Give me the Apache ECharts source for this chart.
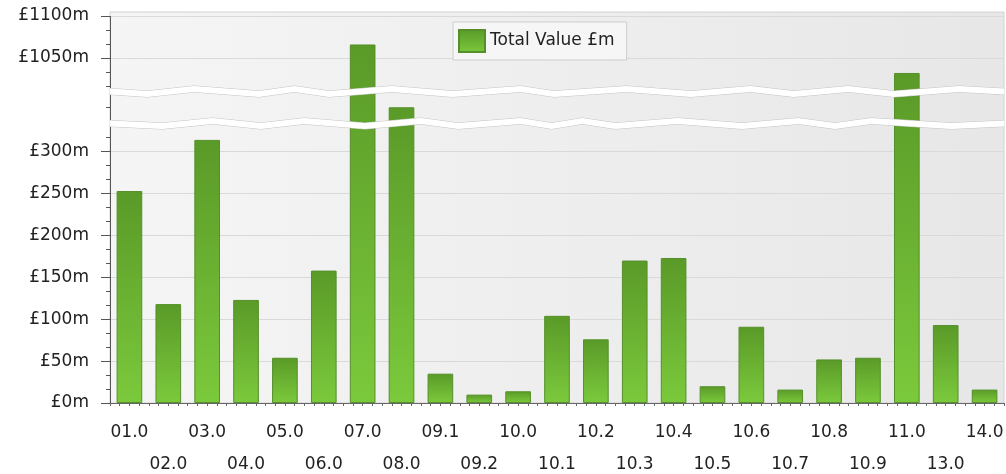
<!DOCTYPE html>
<html>
<head>
<meta charset="utf-8">
<script src="https://cdn.jsdelivr.net/npm/echarts@6.0.0/dist/echarts.min.js"></script>
<style>
html, body { margin: 0; padding: 0; background: #fff; }
#main { width: 1006px; height: 474px; }
</style>
</head>
<body>
<div id="main"></div>
<script>
// years / periods on the x axis
var categories = ['01.0', '02.0', '03.0', '04.0', '05.0', '06.0', '07.0', '08.0', '09.1', '09.2',
  '10.0', '10.1', '10.2', '10.3', '10.4', '10.5', '10.6', '10.7', '10.8', '10.9', '11.0', '13.0', '14.0'];
// total value in £m
var totalValues = [253, 118, 314, 123, 54, 158, 1066, 667, 35, 10,
  14, 104, 76, 170, 173, 20, 91, 16, 52, 54, 1032, 93, 16];
// labelled ticks on the y axis
var yTickValues = [0, 50, 100, 150, 200, 250, 300, 1050, 1100];
var yMin = 0;
var yMax = 1100;
// where the y axis is broken
var breakStarts = [330, 683];
var breakEnds = [651, 1014];

var axisBreaks = breakStarts.map(function (s, i) {
  return { start: s, end: breakEnds[i], gap: '1.5%' };
});

// minor ticks: three steps per 50, skipped inside the breaks
var minorStep = 50 / 3;
var yMinorValues = [];
for (var k = 0; k * minorStep <= yMax; k++) {
  var v = k * minorStep;
  var hidden = breakStarts.some(function (s, i) { return v > s && v < breakEnds[i]; });
  if (k % 3 !== 0 && !hidden) yMinorValues.push(v);
}

var breakStyle = {
  show: true,
  expandOnClick: false,
  zigzagAmplitude: 2.5,
  zigzagMinSpan: 30,
  zigzagMaxSpan: 80,
  zigzagZ: 100,
  itemStyle: { color: '#fff', opacity: 1, borderColor: '#c4c4c4', borderWidth: 1, borderType: 'solid' }
};

var chart = echarts.init(document.getElementById('main'));
chart.setOption({
  animation: false,
  textStyle: { fontFamily: 'DejaVu Sans' },
  graphic: [{
    type: 'rect',
    z: -10,
    shape: { x: 110, y: 12, width: 894, height: 391 },
    style: {
      fill: new echarts.graphic.LinearGradient(0, 0, 1, 0, [
        { offset: 0, color: '#f5f5f5' },
        { offset: 1, color: '#e7e7e7' }
      ]),
      stroke: '#d2d2d2',
      lineWidth: 1
    }
  }],
  legend: {
    left: 453,
    top: 22,
    padding: [7, 12, 7, 5],
    itemWidth: 26,
    itemHeight: 22,
    icon: 'rect',
    backgroundColor: '#f6f6f6',
    borderColor: '#cdcdcd',
    borderWidth: 1,
    textStyle: { fontSize: 17, color: '#222' }
  },
  grid: { left: 110, right: 2, top: 16, bottom: 71, outerBoundsMode: 'none' },
  xAxis: [{
    type: 'category',
    data: categories,
    axisLine: { lineStyle: { color: '#666' } },
    axisTick: { alignWithLabel: true, length: 7, lineStyle: { color: '#666' } },
    axisLabel: {
      interval: 0,
      fontSize: 17,
      color: '#222',
      margin: 14,
      lineHeight: 32,
      formatter: function (v, i) { return i % 2 ? '\n' + v : v; }
    }
  }, {
    // small quarter ticks under the category axis
    type: 'value',
    position: 'bottom',
    min: 0,
    max: categories.length * 4,
    interval: 1,
    axisLine: { show: false },
    axisTick: { length: 3, lineStyle: { color: '#666' } },
    axisLabel: { show: false },
    splitLine: { show: false }
  }],
  yAxis: [{
    type: 'value',
    min: yMin,
    max: yMax,
    interval: 50,
    breaks: axisBreaks,
    breakArea: breakStyle,
    axisLine: { show: true, lineStyle: { color: '#555' } },
    axisTick: { show: true, length: 9, customValues: yTickValues, lineStyle: { color: '#555' } },
    splitLine: { lineStyle: { color: '#d9d9d9' } },
    axisLabel: {
      fontSize: 17,
      color: '#222',
      margin: 21,
      customValues: yTickValues,
      formatter: function (v) { return '£' + v + 'm'; }
    }
  }, {
    // minor ticks only
    type: 'value',
    position: 'left',
    min: yMin,
    max: yMax,
    interval: 50,
    breaks: axisBreaks,
    breakArea: { show: false },
    axisLine: { show: false },
    axisTick: { show: true, length: 4, customValues: yMinorValues, lineStyle: { color: '#555' } },
    axisLabel: { show: false },
    splitLine: { show: false }
  }],
  series: [{
    name: 'Total Value £m',
    type: 'bar',
    data: totalValues,
    barWidth: '66%',
    itemStyle: {
      color: new echarts.graphic.LinearGradient(0, 0, 0, 1, [
        { offset: 0, color: '#5a9a28' },
        { offset: 1, color: '#7bc93c' }
      ]),
      borderColor: '#558f2a',
      borderWidth: 1
    }
  }]
});
</script>
</body>
</html>
